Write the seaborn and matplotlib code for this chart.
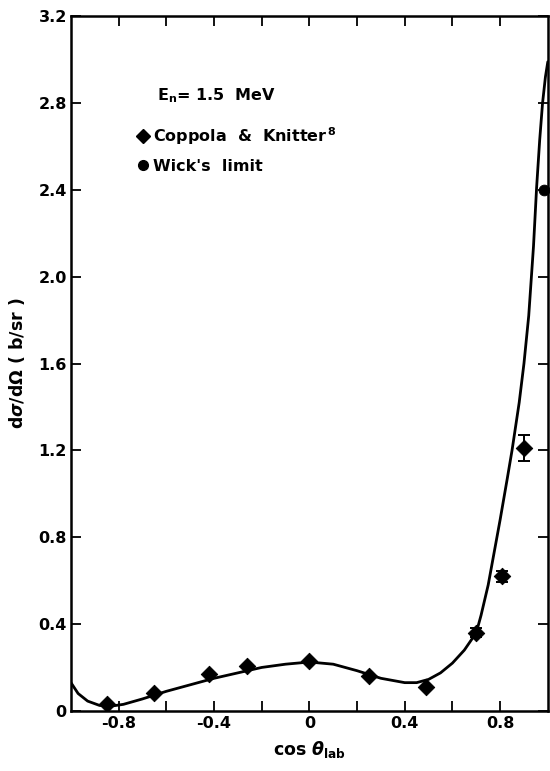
import numpy as np
import pandas as pd
import matplotlib
matplotlib.use("Agg")
import matplotlib.pyplot as plt
from matplotlib.lines import Line2D
from matplotlib.ticker import FixedLocator
import seaborn as sns

# ---- data ----
fit_x = [-1.00, -0.97, -0.93, -0.88, -0.83, -0.78, -0.70, -0.60, -0.50, -0.40,
         -0.30, -0.20, -0.10, 0.00, 0.10, 0.20, 0.30, 0.40, 0.45, 0.50,
         0.55, 0.60, 0.65, 0.70, 0.72, 0.75, 0.78, 0.80, 0.83, 0.85, 0.88,
         0.90, 0.92, 0.94, 0.953, 0.966, 0.978, 0.99, 1.00]
fit_y = [0.13, 0.08, 0.045, 0.025, 0.022, 0.03, 0.055, 0.09, 0.12, 0.15,
         0.175, 0.20, 0.215, 0.225, 0.215, 0.185, 0.15, 0.13, 0.13, 0.145,
         0.175, 0.22, 0.28, 0.36, 0.44, 0.58, 0.76, 0.88, 1.07, 1.20, 1.42,
         1.60, 1.82, 2.14, 2.41, 2.63, 2.80, 2.92, 2.99]

coppola_x = [-0.85, -0.65, -0.42, -0.26, 0.00, 0.25, 0.49, 0.70, 0.81, 0.90]
coppola_y = [0.03, 0.083, 0.17, 0.205, 0.23, 0.16, 0.11, 0.36, 0.62, 1.21]
coppola_err = [0.0, 0.0, 0.0, 0.0, 0.0, 0.0, 0.0, 0.02, 0.025, 0.06]

wick_x = [0.985]
wick_y = [2.40]

x_ticks = [-0.8, -0.4, 0.0, 0.4, 0.8]
x_tick_labels = ["-0.8", "-0.4", "0", "0.4", "0.8"]
y_ticks = [0, 0.4, 0.8, 1.2, 1.6, 2.0, 2.4, 2.8, 3.2]
y_tick_labels = ["0", "0.4", "0.8", "1.2", "1.6", "2.0", "2.4", "2.8", "3.2"]

sns.set_style("ticks")
plt.rcParams["font.family"] = ["DejaVu Sans"]
plt.rcParams["font.weight"] = "bold"
plt.rcParams["mathtext.fontset"] = "dejavusans"
plt.rcParams["text.color"] = "black"
plt.rcParams["axes.labelcolor"] = "black"
plt.rcParams["xtick.color"] = "black"
plt.rcParams["ytick.color"] = "black"

fig = plt.figure(figsize=(5.5, 7.71), dpi=100)
ax = fig.add_axes([0.129, 0.078, 0.867, 0.901])

fit_df = pd.DataFrame({"x": fit_x, "y": fit_y})
sns.lineplot(data=fit_df, x="x", y="y", sort=False, color="black", lw=2.0, ax=ax)

cop_df = pd.DataFrame({"x": coppola_x, "y": coppola_y})
ax.errorbar(coppola_x, coppola_y, yerr=coppola_err, fmt="none", ecolor="black",
            elinewidth=1.4, capsize=4, capthick=1.4, zorder=3)
sns.scatterplot(data=cop_df, x="x", y="y", marker="D", s=70, color="black",
                edgecolor="black", ax=ax, zorder=4)

wick_df = pd.DataFrame({"x": wick_x, "y": wick_y})
sns.scatterplot(data=wick_df, x="x", y="y", marker="o", s=60, color="black",
                edgecolor="black", ax=ax, zorder=4, clip_on=False)

ax.set_xlim(-1.0, 1.0)
ax.set_ylim(0, 3.2)
ax.xaxis.set_major_locator(FixedLocator(x_ticks))
ax.set_xticklabels(x_tick_labels)
ax.xaxis.set_minor_locator(FixedLocator([-0.6, -0.2, 0.2, 0.6]))
ax.yaxis.set_major_locator(FixedLocator(y_ticks))
ax.set_yticklabels(y_tick_labels)

for s in ax.spines.values():
    s.set_linewidth(1.8)
    s.set_color("black")

ax.tick_params(axis="both", which="both", top=True, right=True, direction="in",
               width=1.3, labelsize=11.5, colors="black", length=7)
ax.tick_params(axis="y", which="major", pad=3)
for lab in ax.get_xticklabels() + ax.get_yticklabels():
    lab.set_fontweight("bold")

ax.set_xlabel(r"cos $\theta_{\rm lab}$", fontsize=12.5, fontweight="bold",
              labelpad=6, color="black")
ax.set_ylabel(r"d$\sigma$/d$\Omega$ ( b/sr )", fontsize=12.5, fontweight="bold",
              color="black")
ax.yaxis.set_label_coords(-0.092, 0.5)

ax.text(0.180, 0.885, r"E$_{\rm n}$= 1.5  MeV", transform=ax.transAxes,
        fontsize=11.5, fontweight="bold", va="center", ha="left", color="black")

handles = [
    Line2D([], [], marker="D", color="black", ls="none", markersize=7),
    Line2D([], [], marker="o", color="black", ls="none", markersize=7),
]
leg = ax.legend(handles, [r"Coppola  &  Knitter$^{\,8}$", "Wick's  limit"],
                loc="upper left", bbox_to_anchor=(0.135, 0.843), frameon=False,
                fontsize=11.5, handletextpad=0.1, handlelength=1.0,
                labelspacing=0.75, borderaxespad=0, borderpad=0,
                labelcolor="black")
for t in leg.get_texts():
    t.set_fontweight("bold")

fig.savefig("out.png", dpi=100, facecolor="white")
